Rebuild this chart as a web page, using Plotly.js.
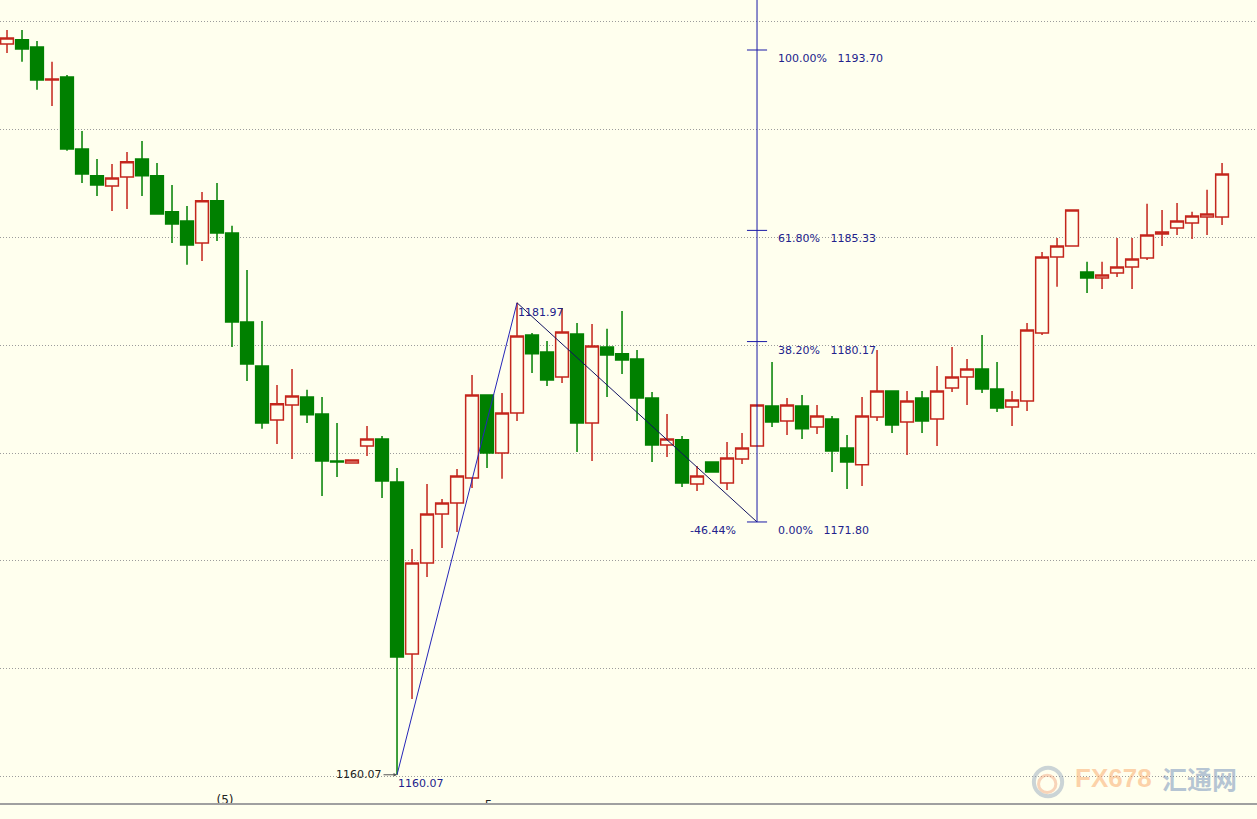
<!DOCTYPE html>
<html>
<head>
<meta charset="utf-8">
<script src="https://cdn.plot.ly/plotly-3.0.1.min.js"></script>
<style>
html,body{margin:0;padding:0;background:#FFFFEE;}
#chart{width:1257px;height:819px;}
</style>
</head>
<body>
<div id="chart"></div>
<script>
// ---- Data (price per bar) ----
var openP = [1193.98,1194.17,1193.84,1192.31,1192.45,1189.11,1187.86,1187.39,1187.81,1188.64,
1187.86,1186.19,1185.77,1184.75,1186.70,1185.21,1181.08,1179.04,1176.53,1177.23,
1177.60,1176.81,1174.63,1174.54,1175.33,1175.65,1173.66,1165.67,1169.90,1172.17,
1172.68,1173.84,1177.69,1175.00,1176.86,1180.48,1179.69,1178.53,1180.52,1176.39,
1179.92,1179.60,1179.36,1177.55,1175.37,1175.61,1173.56,1174.58,1173.61,1174.72,
1175.33,1177.18,1176.49,1177.18,1176.21,1176.58,1175.23,1174.45,1176.67,1177.88,
1176.44,1177.55,1176.58,1178.02,1178.53,1178.90,1177.97,1177.14,1177.41,1180.57,
1184.10,1184.61,1183.40,1183.12,1183.35,1183.63,1184.05,1185.16,1185.44,1185.67,
1185.95,1185.95];

var highP = [1194.63,1194.63,1194.12,1193.15,1192.54,1189.94,1188.64,1188.41,1188.97,1189.48,
1188.46,1187.44,1186.46,1187.11,1187.53,1185.54,1183.49,1181.13,1178.16,1178.90,
1177.93,1177.60,1176.39,1174.68,1176.25,1175.79,1174.31,1170.55,1173.56,1172.87,
1174.26,1178.62,1177.69,1177.79,1181.97,1180.57,1180.20,1181.73,1181.03,1180.99,
1180.76,1181.59,1179.78,1177.83,1176.81,1175.79,1174.40,1174.58,1175.51,1175.93,
1177.23,1179.22,1177.55,1177.69,1177.23,1176.72,1175.84,1177.60,1179.78,1177.88,
1177.88,1177.88,1179.04,1179.92,1179.36,1180.48,1179.22,1177.88,1181.03,1184.33,
1184.98,1186.28,1183.87,1183.87,1184.98,1184.98,1186.56,1186.28,1186.60,1186.19,
1187.21,1188.46];

var lowP = [1193.56,1193.15,1191.85,1191.10,1189.02,1187.53,1186.93,1186.23,1186.32,1186.93,
1186.05,1184.75,1183.73,1183.91,1184.84,1179.92,1178.34,1176.12,1175.42,1174.72,
1176.39,1173.01,1173.89,1174.54,1174.86,1172.91,1160.07,1163.59,1169.25,1170.59,
1171.34,1173.38,1174.31,1173.80,1176.49,1178.71,1178.11,1178.25,1175.05,1174.63,
1177.60,1178.67,1176.49,1174.58,1174.82,1173.42,1173.24,1174.12,1173.28,1174.49,
1175.33,1176.21,1175.84,1175.65,1175.88,1174.12,1173.33,1173.47,1176.49,1175.93,
1174.91,1175.93,1175.33,1177.83,1177.23,1177.79,1176.90,1176.25,1176.95,1180.48,
1182.71,1184.61,1182.43,1182.61,1183.17,1182.61,1183.96,1184.61,1185.12,1184.93,
1185.12,1185.58];

var closeP = [1194.26,1193.75,1192.31,1192.36,1189.11,1187.95,1187.44,1187.76,1188.51,1187.86,
1186.09,1185.63,1184.65,1186.70,1185.21,1181.08,1179.13,1176.39,1177.28,1177.65,
1176.77,1174.63,1174.58,1174.68,1175.65,1173.70,1165.54,1169.90,1172.17,1172.68,
1173.93,1177.69,1175.00,1176.86,1180.43,1179.60,1178.39,1180.62,1176.39,1179.97,
1179.55,1179.32,1177.55,1175.37,1175.65,1173.61,1173.93,1174.12,1174.77,1175.23,
1177.23,1176.44,1177.23,1176.12,1176.72,1175.09,1174.58,1176.72,1177.88,1176.30,
1177.41,1176.49,1177.88,1178.53,1178.90,1177.97,1177.09,1177.46,1180.71,1184.10,
1184.61,1186.28,1183.12,1183.26,1183.63,1184.00,1185.12,1185.26,1185.77,1186.00,
1186.09,1187.95];

// Fibonacci tool
var swingIdx = [26, 34, 50];                 // low bar, high bar, anchor bar
var swingPrice = [1160.07, 1181.97, 1171.80];
var fibPct = ['0.00%', '38.20%', '61.80%', '100.00%'];
var fibPrice = [1171.80, 1180.17, 1185.33, 1193.70];
var retraceLabel = '-46.44%';

// bottom axis fragments
var bottomLabels = ['(5)', '5'];
var bottomLabelIdx = [14.53, 32.1];
var bottomLabelY = [1158.84, 1158.60];

var xIdx = openP.map(function (_, i) { return i; });

var BG = '#FFFFEE';
var RED = '#C4261C';
var GREEN = '#008000';
var FIB = '#1A1AA6';
var FIBTXT = '#22228C';
var yRange = [1158.76, 1196.02];

var traces = [{
  type: 'candlestick',
  x: xIdx, open: openP, high: highP, low: lowP, close: closeP,
  increasing: {line: {color: RED, width: 1.5}, fillcolor: BG},
  decreasing: {line: {color: GREEN, width: 1.5}, fillcolor: GREEN},
  whiskerwidth: 0,
  hoverinfo: 'skip',
  showlegend: false
}, {
  type: 'scatter', mode: 'text',
  x: bottomLabelIdx, y: bottomLabelY, text: bottomLabels,
  textfont: {family: 'DejaVu Sans', size: 12, color: '#222'},
  cliponaxis: true, hoverinfo: 'skip', showlegend: false
}];

var shapes = [];
// swing lines
shapes.push({type: 'line', xref: 'x', yref: 'y', layer: 'above',
  x0: swingIdx[0], y0: swingPrice[0], x1: swingIdx[1], y1: swingPrice[1],
  line: {color: '#2626B8', width: 1}});
shapes.push({type: 'line', xref: 'x', yref: 'y', layer: 'above',
  x0: swingIdx[1], y0: swingPrice[1], x1: swingIdx[2], y1: swingPrice[2],
  line: {color: '#121260', width: 1}});
// vertical fib line
shapes.push({type: 'line', xref: 'x', yref: 'y', layer: 'above',
  x0: swingIdx[2], y0: fibPrice[0], x1: swingIdx[2], y1: yRange[1],
  line: {color: FIB, width: 1}});
// level ticks
fibPrice.forEach(function (p) {
  shapes.push({type: 'line', xref: 'x', yref: 'y', layer: 'above',
    x0: swingIdx[2] - 0.67, x1: swingIdx[2] + 0.67, y0: p, y1: p,
    line: {color: FIB, width: 1}});
});
// watermark logo rings
shapes.push({type: 'circle', xref: 'paper', yref: 'paper', layer: 'above',
  x0: 0.8225, x1: 0.8450, y0: 0.0085, y1: 0.0440,
  line: {color: 'rgba(140,160,185,0.45)', width: 4}});
shapes.push({type: 'circle', xref: 'paper', yref: 'paper', layer: 'above',
  x0: 0.8262, x1: 0.8400, y0: 0.0130, y1: 0.0345,
  line: {color: 'rgba(240,160,120,0.45)', width: 3}});

var tf = {family: 'DejaVu Sans', size: 11, color: FIBTXT};
var NB = '\u00a0\u00a0\u00a0';
var annotations = [];
fibPct.forEach(function (pct, i) {
  annotations.push({xref: 'x', yref: 'y', x: swingIdx[2], y: fibPrice[i],
    xanchor: 'left', yanchor: 'top', xshift: 19, showarrow: false,
    text: pct + NB + fibPrice[i].toFixed(2), font: tf});
});
annotations.push({xref: 'x', yref: 'y', x: swingIdx[2], y: fibPrice[0],
  xanchor: 'right', yanchor: 'top', xshift: -19, showarrow: false,
  text: retraceLabel, font: tf});
annotations.push({xref: 'x', yref: 'y', x: swingIdx[1], y: swingPrice[1],
  xanchor: 'left', yanchor: 'top', xshift: -1, yshift: -1, showarrow: false,
  text: swingPrice[1].toFixed(2), font: tf});
annotations.push({xref: 'x', yref: 'y', x: swingIdx[0], y: swingPrice[0],
  xanchor: 'left', yanchor: 'top', xshift: -1, showarrow: false,
  text: swingPrice[0].toFixed(2), font: tf});
annotations.push({xref: 'x', yref: 'y', x: swingIdx[0], y: swingPrice[0],
  showarrow: true, ax: -38, ay: 0, arrowhead: 2, arrowsize: 0.7, arrowwidth: 1,
  arrowcolor: '#555555', standoff: 0,
  text: swingPrice[0].toFixed(2), font: {family: 'DejaVu Sans', size: 11, color: '#222222'}});
// watermark text
annotations.push({xref: 'paper', yref: 'paper', x: 0.8858, y: 0.0311,
  xanchor: 'center', yanchor: 'middle', showarrow: false, text: '<b>FX678</b>',
  font: {family: 'Liberation Sans', size: 26, color: 'rgba(250,165,100,0.5)'}});
annotations.push({xref: 'paper', yref: 'paper', x: 0.9539, y: 0.0311,
  xanchor: 'center', yanchor: 'middle', showarrow: false, text: '<b>汇通网</b>',
  font: {family: 'Noto Sans CJK SC', size: 25, color: 'rgba(110,140,185,0.5)'}});

var layout = {
  width: 1257, height: 819,
  margin: {l: 0, r: 0, t: 0, b: 16, pad: 0},
  paper_bgcolor: BG, plot_bgcolor: BG,
  showlegend: false,
  boxgap: 0.15, boxgroupgap: 0,
  xaxis: {range: [-0.467, 83.33], showgrid: false, zeroline: false,
    showticklabels: false, ticks: '', showline: true, linecolor: '#A0A0A0', linewidth: 1.5,
    rangeslider: {visible: false}, fixedrange: true},
  yaxis: {range: yRange, tick0: 1160, dtick: 5, showgrid: true, gridcolor: '#9C9C9C',
    gridwidth: 1, griddash: '1px,2px', zeroline: false, showticklabels: false, ticks: '',
    showline: false, fixedrange: true},
  shapes: shapes,
  annotations: annotations,
  hovermode: false
};

Plotly.newPlot('chart', traces, layout, {staticPlot: true, displayModeBar: false});
</script>
</body>
</html>
